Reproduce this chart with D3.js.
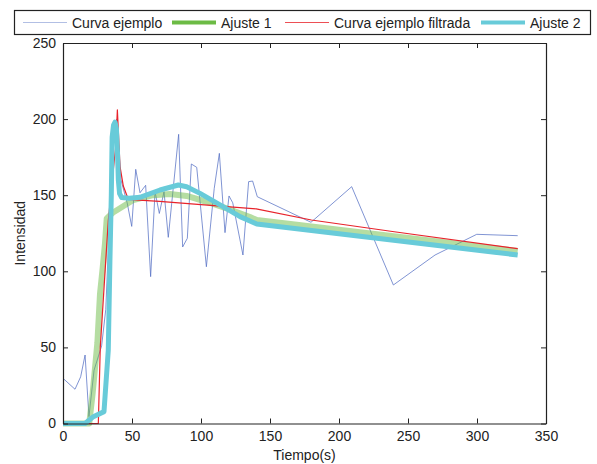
<!DOCTYPE html>
<html>
<head>
<meta charset="utf-8">
<script src="https://cdn.jsdelivr.net/npm/d3@7"></script>
<style>
  html, body { margin: 0; padding: 0; background: #fff; }
  svg { display: block; font-family: "Liberation Sans", Arial, Helvetica, sans-serif; }
</style>
</head>
<body>
<svg id="chart" width="597" height="464"></svg>
<script>
// Raw sample curve (time in s, intensity)
const tiempoMuestra = [0, 8.7, 12.8, 16, 18.8, 22.5, 28, 31, 34, 36.5, 39, 42, 46.5, 49.8, 52.7, 55.8, 59.9,
  63.5, 66.7, 69.8, 73.2, 76.3, 83.8, 86.7, 90.1, 93, 96.9, 103.9, 109.6, 113.3, 117.4, 120.3, 123,
  130.4, 134.5, 137.4, 140.8, 179.7, 209.2, 239.4, 269.6, 299.8, 329.5];
const intensidadMuestra = [29.7, 22.5, 30.7, 45, 4.5, 35, 51, 75, 140, 192, 200, 160, 145, 129.5, 167, 151.6, 156.5,
  96.5, 152.3, 138, 152.3, 122.3, 190, 116, 121.7, 170.5, 168.3, 103, 154.5, 177.5, 125.4, 149.5, 145,
  110.7, 158.9, 159.3, 149, 132.2, 155.6, 91, 110.7, 124.3, 123.4];

// Filtered curve
const tiempoFiltrada = [0, 25.6, 27, 32.8, 35.5, 38.2, 39.4, 41.3, 43.7, 47.3, 55, 70, 100, 140, 180, 240, 329.5];
const intensidadFiltrada = [0, 0, 50, 133, 158, 182, 206, 169, 156, 147.3, 146.8, 146, 143.8, 141, 133.7, 126, 114.9];

// Fit 1
const tiempoAjuste1 = [0, 19, 21.5, 24.9, 26.8, 28.5, 30.4, 31.7, 36, 41.3, 50.9, 65.4, 77.5, 89.6, 104, 118.6, 135.5, 140.4, 329.5];
const intensidadAjuste1 = [0, 0, 20, 53, 85, 100, 118, 134.8, 138.5, 141.4, 146.8, 150, 150.8, 149.5, 145.7, 141.4, 135.7, 133.7, 113.3];

// Fit 2
const tiempoAjuste2 = [0, 16, 22, 29.7, 32.8, 34, 35, 35.6, 36.6, 37.7, 38.7, 39.5, 40.1, 41, 42.5, 48, 55.8, 70.3, 83.6,
  89.6, 99.3, 113.8, 128.3, 140.4, 329.5];
const intensidadAjuste2 = [0, 0, 4.5, 7.8, 48, 107, 150, 188, 196, 198, 194, 178, 160, 151, 148.5, 148, 148.6, 153.4, 156.7,
  155.6, 151.2, 143.6, 135.9, 131.1, 110.7];

const xTicks = [0, 50, 100, 150, 200, 250, 300, 350];
const yTicks = [0, 50, 100, 150, 200, 250];

const seriesNames = ["Curva ejemplo", "Ajuste 1", "Curva ejemplo filtrada", "Ajuste 2"];

const svg = d3.select("#chart");
const plot = { left: 63, right: 546, top: 43, bottom: 423.5 };

const x = d3.scaleLinear().domain([0, 350]).range([plot.left, plot.right]);
const y = d3.scaleLinear().domain([0, 250]).range([plot.bottom, plot.top]);

const zip = (ts, vs) => ts.map((t, i) => [t, vs[i]]);
const line = d3.line().x(d => x(d[0])).y(d => y(d[1]));

const styles = [
  { data: zip(tiempoMuestra, intensidadMuestra), color: "#5570c4", width: 1, opacity: 0.75, legendOpacity: 0.45 },
  { data: zip(tiempoAjuste1, intensidadAjuste1), color: "#6cbb45", width: 6, opacity: 0.5, legendOpacity: 1, legendWidth: 4 },
  { data: zip(tiempoFiltrada, intensidadFiltrada), color: "#e8232b", width: 1.2, opacity: 1, legendOpacity: 0.8 },
  { data: zip(tiempoAjuste2, intensidadAjuste2), color: "#68cbd9", width: 5, opacity: 1, legendOpacity: 1, legendWidth: 4 }
];

// Curves
styles.forEach(s => {
  svg.append("path")
    .attr("d", line(s.data))
    .attr("fill", "none")
    .attr("stroke", s.color)
    .attr("stroke-width", s.width)
    .attr("stroke-opacity", s.opacity)
    .attr("stroke-linejoin", "round")
    .attr("stroke-linecap", "butt");
});

// Axes: box with inward ticks on all sides
const tickLen = 5;
const axisColor = "#222";
const bottomAxis = d3.axisBottom(x).tickValues(xTicks).tickSizeInner(-tickLen).tickSizeOuter(0).tickPadding(8);
const leftAxis = d3.axisLeft(y).tickValues(yTicks).tickSizeInner(-tickLen).tickSizeOuter(0).tickPadding(7);
const topAxis = d3.axisTop(x).tickValues(xTicks).tickSizeInner(-tickLen).tickSizeOuter(0).tickFormat("");
const rightAxis = d3.axisRight(y).tickValues(yTicks).tickSizeInner(-tickLen).tickSizeOuter(0).tickFormat("");

function styleAxis(g) {
  g.select(".domain").attr("stroke", axisColor).attr("stroke-width", 1.2);
  g.selectAll(".tick line").attr("stroke", axisColor);
  g.selectAll(".tick text").attr("fill", "#222").attr("font-size", 14)
    .attr("font-family", "'Liberation Sans', Arial, sans-serif");
}

svg.append("g").attr("transform", `translate(0,${plot.bottom})`).call(bottomAxis).call(styleAxis);
svg.append("g").attr("transform", `translate(${plot.left},0)`).call(leftAxis).call(styleAxis);
svg.append("g").attr("transform", `translate(0,${plot.top})`).call(topAxis).call(styleAxis);
svg.append("g").attr("transform", `translate(${plot.right},0)`).call(rightAxis).call(styleAxis);

// Axis titles
svg.append("text")
  .attr("x", (plot.left + plot.right) / 2).attr("y", 460)
  .attr("text-anchor", "middle").attr("font-size", 14).attr("fill", "#222")
  .text("Tiempo(s)");
svg.append("text")
  .attr("transform", `translate(25,${(plot.top + plot.bottom) / 2}) rotate(-90)`)
  .attr("text-anchor", "middle").attr("font-size", 14).attr("fill", "#222")
  .text("Intensidad");

// Legend
const legend = svg.append("g");
legend.append("rect")
  .attr("x", 14.5).attr("y", 10.5).attr("width", 576).attr("height", 24)
  .attr("fill", "#fff").attr("stroke", "#222").attr("stroke-width", 1.2);

const legendLineX = [23, 172, 285, 481];
const legendLineLen = 44;
seriesNames.forEach((name, i) => {
  const s = styles[i];
  const lx = legendLineX[i];
  legend.append("line")
    .attr("x1", lx).attr("x2", lx + legendLineLen)
    .attr("y1", 22.5).attr("y2", 22.5)
    .attr("stroke", s.color)
    .attr("stroke-width", s.legendWidth || s.width)
    .attr("stroke-opacity", s.legendOpacity);
  legend.append("text")
    .attr("x", lx + legendLineLen + 5).attr("y", 27.5)
    .attr("font-size", 14).attr("fill", "#222")
    .text(name);
});
</script>
</body>
</html>
